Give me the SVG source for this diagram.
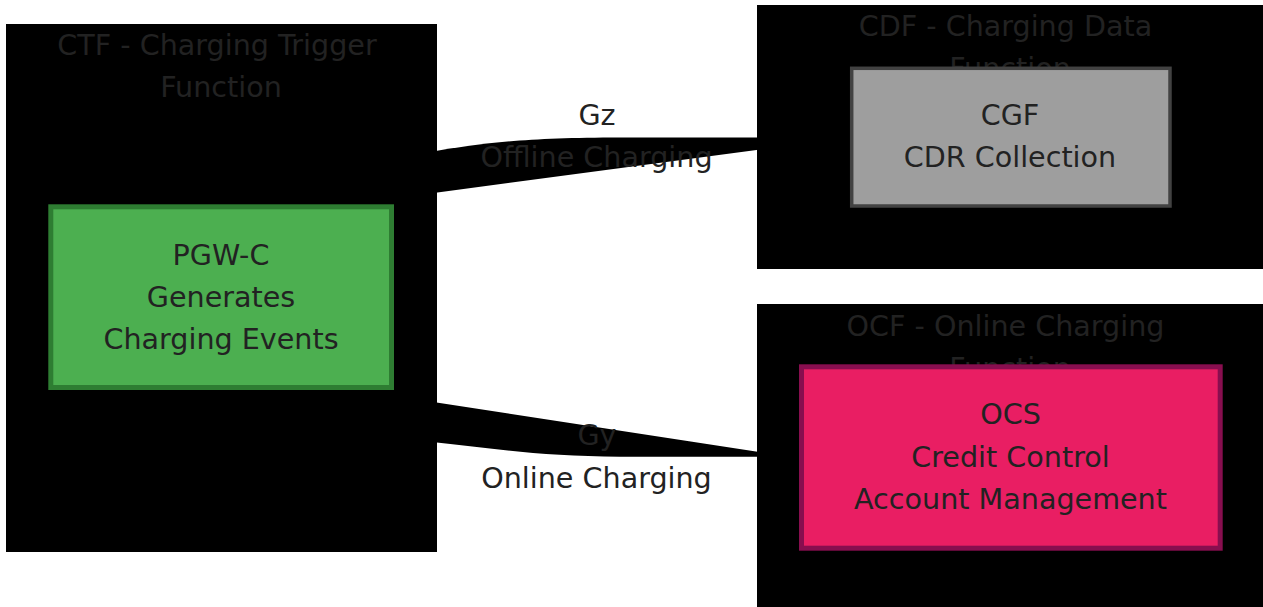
<svg xmlns="http://www.w3.org/2000/svg" width="1263" height="607" viewBox="0 0 1263 607">
<style>
text{font-family:"DejaVu Sans","Noto Sans",sans-serif;font-size:28.6px;fill:#222;text-anchor:middle}
.cluster{fill:#000;stroke:none}
.edge{fill:#000;stroke:none}
</style>
<rect x="0" y="0" width="1263" height="607" fill="#fff"/>
<g id="cluster-ctf">
<rect class="cluster" x="6" y="24" width="431" height="528"/>
<text x="217" y="55">CTF - Charging Trigger</text>
<text x="221" y="97">Function</text>
</g>
<g id="cluster-cdf">
<rect class="cluster" x="757" y="5" width="506" height="264"/>
<text x="1005.5" y="36">CDF - Charging Data</text>
<text x="1010" y="78">Function</text>
</g>
<g id="cluster-ocf">
<rect class="cluster" x="757" y="304" width="506" height="303"/>
<text x="1005.5" y="336">OCF - Online Charging</text>
<text x="1010" y="378">Function</text>
</g>
<g id="connectors">
<path class="edge" d="M 430,193.5 L 430,152 C 485,142.5 530,137.5 620,137.5 L 851,137.5 Z"/>
<path class="edge" d="M 430,401.6 L 790,456.7 L 620,456.7 C 540,456.7 490,448 430,441.8 Z"/>
</g>
<g id="edge-labels">
<text x="597" y="124.5">Gz</text>
<text x="596.5" y="166.5">Offline Charging</text>
<text x="597" y="445">Gy</text>
<text x="596.5" y="487.5">Online Charging</text>
</g>
<g id="node-pgwc">
<rect x="50.8" y="206.8" width="340.7" height="180.7" fill="#4caf50" stroke="#2e7d32" stroke-width="5"/>
<text x="221" y="265">PGW-C</text>
<text x="221" y="307">Generates</text>
<text x="221" y="349">Charging Events</text>
</g>
<g id="node-cgf">
<rect x="851.7" y="68.3" width="318.3" height="137.7" fill="#9e9e9e" stroke="#424242" stroke-width="3.5"/>
<text x="1010" y="124.5">CGF</text>
<text x="1010" y="166.5">CDR Collection</text>
</g>
<g id="node-ocs">
<rect x="801.5" y="366.8" width="418.7" height="181.4" fill="#e91e63" stroke="#880e4f" stroke-width="5"/>
<text x="1010.5" y="424">OCS</text>
<text x="1010.5" y="466.5">Credit Control</text>
<text x="1010.5" y="509">Account Management</text>
</g>
</svg>
